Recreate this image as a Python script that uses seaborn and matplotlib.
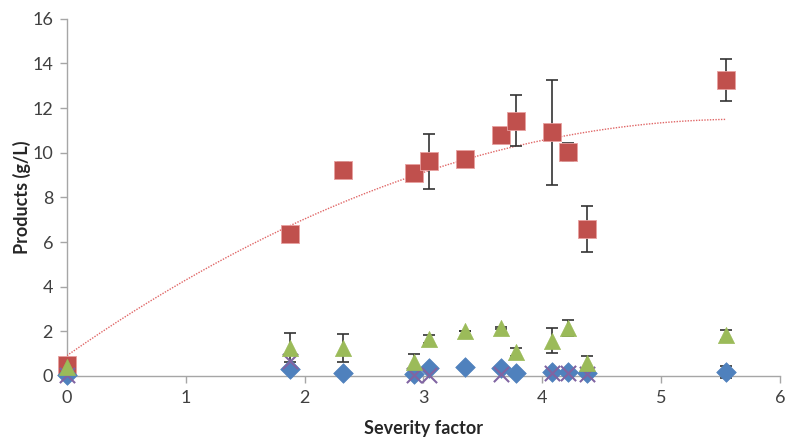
import numpy as np
import pandas as pd
import matplotlib
matplotlib.use("Agg")
import matplotlib.pyplot as plt
import seaborn as sns

# Red squares
red_x = [0.0, 1.88, 2.32, 2.92, 3.05, 3.35, 3.65, 3.78, 4.08, 4.22, 4.38, 5.55]
red_y = [0.5, 6.35, 9.22, 9.07, 9.61, 9.73, 10.81, 11.43, 10.93, 10.04, 6.59, 13.27]
red_lo = [0.0, 0.0, 0.37, 0.0, 1.24, 0.0, 0.0, 1.15, 2.37, 0.40, 1.02, 0.97]
red_hi = [0.0, 0.0, 0.38, 0.0, 1.24, 0.0, 0.0, 1.17, 2.34, 0.39, 1.00, 0.93]

# Green triangles
green_x = [0.0, 1.88, 2.32, 2.92, 3.05, 3.35, 3.65, 3.78, 4.08, 4.22, 4.38, 5.55]
green_y = [0.42, 1.27, 1.24, 0.64, 1.66, 2.03, 2.14, 1.09, 1.58, 2.14, 0.60, 1.84]
green_err = [0.0, 0.64, 0.62, 0.33, 0.19, 0.0, 0.05, 0.18, 0.56, 0.35, 0.31, 0.22]

# Blue diamonds
blue_x = [0.0, 1.88, 2.32, 2.92, 3.05, 3.35, 3.65, 3.78, 4.08, 4.22, 4.38, 5.55]
blue_y = [0.05, 0.30, 0.12, 0.07, 0.34, 0.39, 0.37, 0.12, 0.16, 0.16, 0.12, 0.18]
blue_err = [0.0, 0.0, 0.0, 0.0, 0.0, 0.0, 0.0, 0.0, 0.0, 0.0, 0.0, 0.25]

# Purple crosses
purple_x = [0.0, 1.88, 2.92, 3.05, 3.65, 4.08, 4.22, 4.38]
purple_y = [0.05, 0.65, 0.05, 0.05, 0.07, 0.15, 0.15, 0.10]

# Trendline: 2nd-order polynomial fitted to the red series
coef = np.polyfit(red_x, red_y, 2)
trend_x = np.linspace(0, max(red_x), 200)
trend_y = np.polyval(coef, trend_x)

RED = "#C0504D"
GREEN = "#9BBB59"
BLUE = "#4F81BD"
PURPLE = "#8064A2"

sns.set_theme(style="white")
plt.rcParams["font.family"] = ["Lato", "DejaVu Sans"]

fig = plt.figure(figsize=(7.87, 4.40), dpi=100)
ax = fig.add_axes([0.085, 0.1455, 0.906, 0.812])

sns.lineplot(x=trend_x, y=trend_y, ax=ax, color="#E06666", linestyle=(0, (1, 1)),
             linewidth=1.0, zorder=1)

for xs, ys, err in [(red_x, red_y, [red_lo, red_hi]), (green_x, green_y, green_err),
                    (blue_x, blue_y, blue_err)]:
    eb = ax.errorbar(xs, ys, yerr=err, fmt="none", ecolor="#333333",
                     elinewidth=1.2, capsize=4, capthick=1.2, zorder=2)
    for art in eb.lines[1] + eb.lines[2]:
        art.set_clip_on(False)

sns.scatterplot(x=red_x, y=red_y, ax=ax, marker="s", s=150, color=RED,
                edgecolor="#E8A0A0", linewidth=0.6, zorder=3, clip_on=False)
sns.scatterplot(x=blue_x, y=blue_y, ax=ax, marker="D", s=100, color=BLUE,
                edgecolor=BLUE, linewidth=0.5, zorder=4, clip_on=False)
sns.scatterplot(x=purple_x, y=purple_y, ax=ax, marker="x", s=120, color=PURPLE,
                linewidth=1.5, zorder=5, clip_on=False)
sns.scatterplot(x=green_x, y=green_y, ax=ax, marker="^", s=135, color=GREEN,
                edgecolor=GREEN, linewidth=0.5, zorder=6, clip_on=False)

ax.set_xlim(0, 6)
ax.set_ylim(0, 16)
ax.set_xticks(range(0, 7))
ax.set_yticks(range(0, 17, 2))
for s in ["top", "right"]:
    ax.spines[s].set_visible(False)
for s in ["left", "bottom"]:
    ax.spines[s].set_color("#A6A6A6")
    ax.spines[s].set_linewidth(1.0)
    ax.spines[s].set_zorder(0.5)
ax.tick_params(axis="both", direction="out", length=5, width=1, color="#A6A6A6",
               labelsize=13, labelcolor="#404040", left=True, bottom=True, pad=5)
ax.set_xlabel("Severity factor", fontsize=13, fontweight="bold", color="#262626", labelpad=10)
ax.set_ylabel("Products (g/L)", fontsize=13, fontweight="bold", color="#262626", labelpad=1)
ax.grid(False)

fig.savefig("out.png", dpi=100)
